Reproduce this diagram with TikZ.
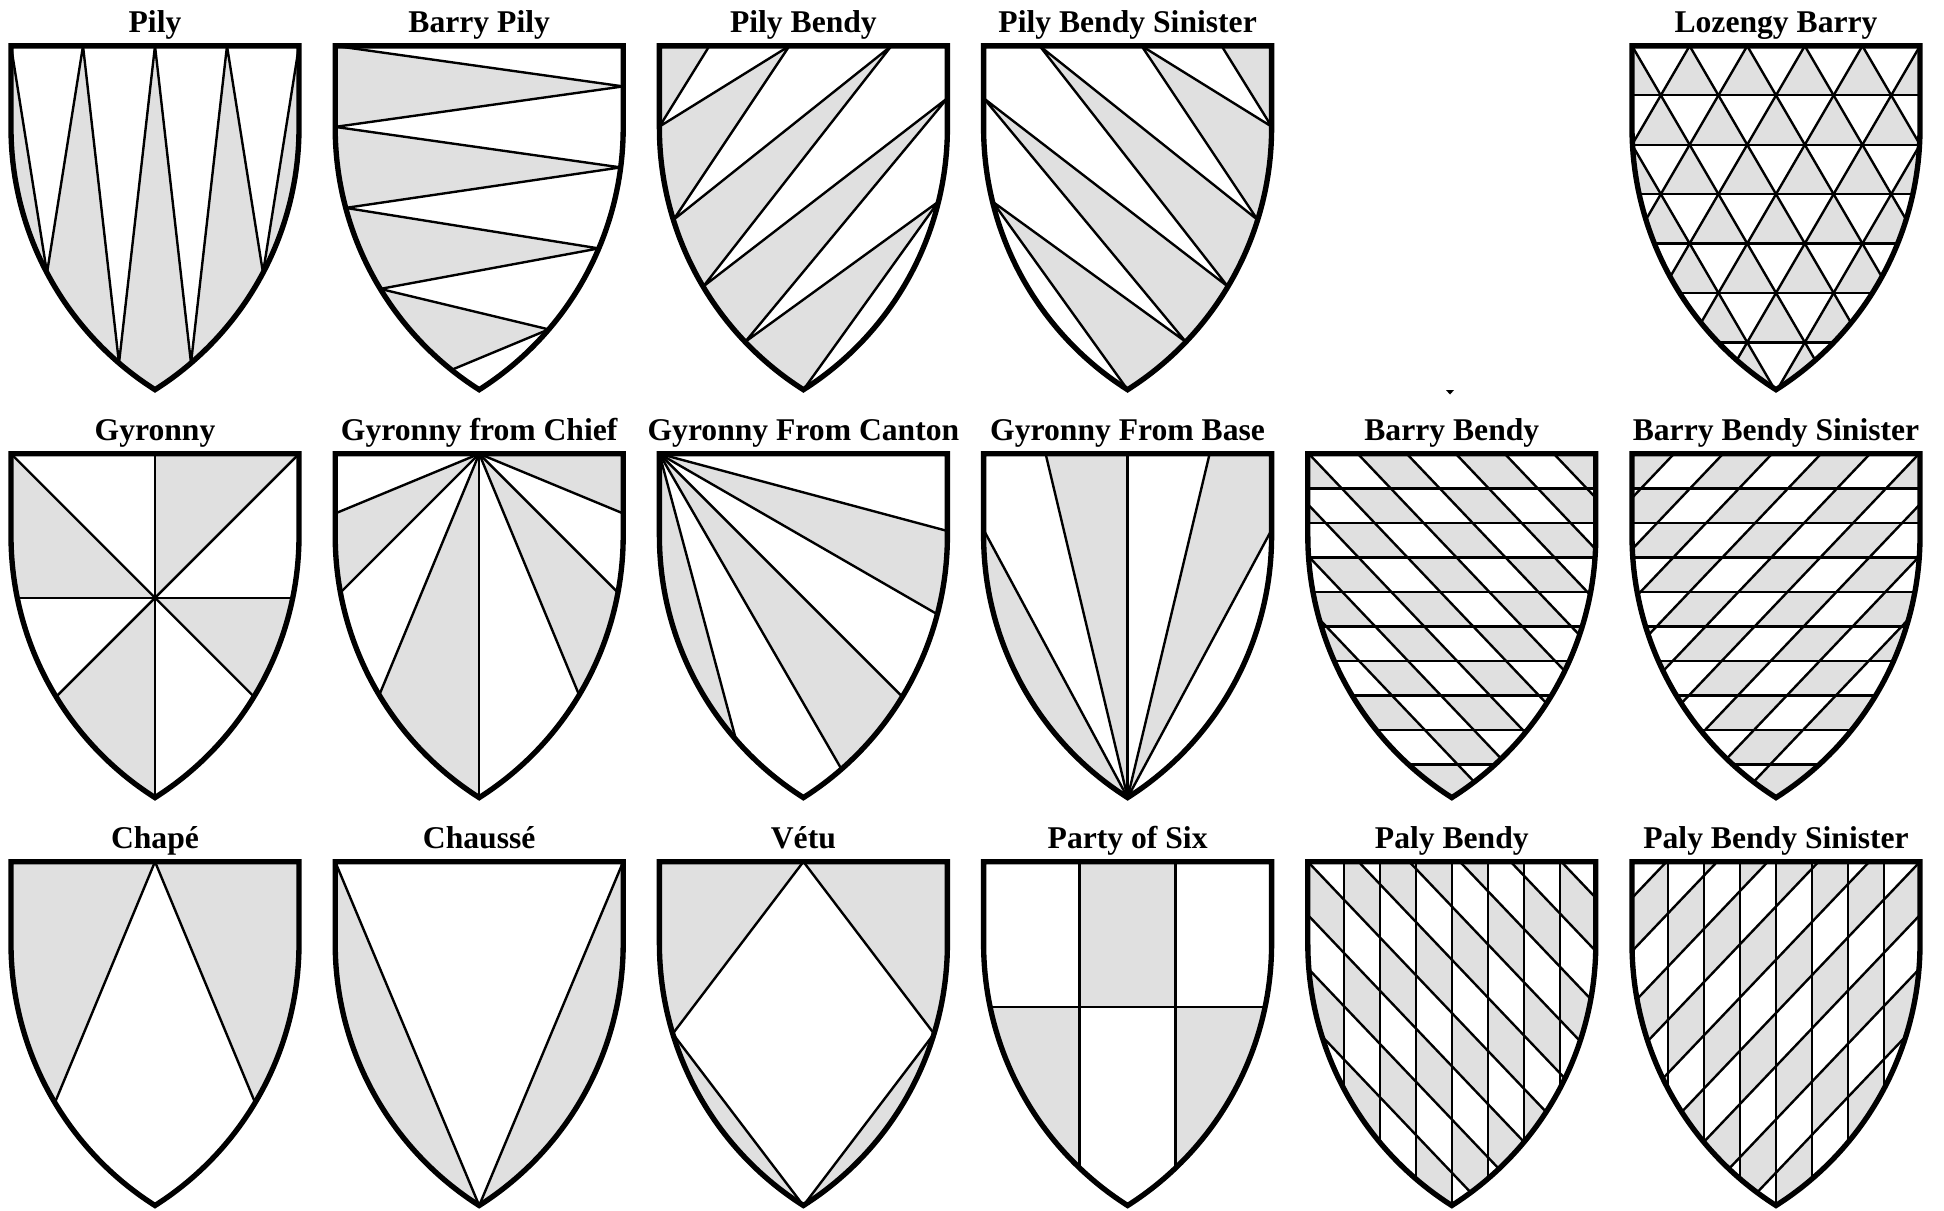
\documentclass[tikz,border=0pt]{standalone}
\usepackage{fontspec}
\setmainfont{Liberation Serif}
\definecolor{shade}{RGB}{224,224,224}
\newcommand\ShClip{\clip (0,0) -- (0,8.2) arc[start angle=180,end angle=122.38,radius=31] arc[start angle=57.62,end angle=0,radius=31] -- (28.8,0) -- cycle;}
\newcommand\ShDraw{\draw[outl] (0,0) -- (0,8.2) arc[start angle=180,end angle=122.38,radius=31] arc[start angle=57.62,end angle=0,radius=31] -- (28.8,0) -- cycle;}
\newcommand\PilyBendyPat{%
  \coordinate (T1) at (5,0); \coordinate (T2) at (13,0); \coordinate (T3) at (23.2,0);
  \coordinate (L1) at (0,8.07); \coordinate (L2) at ({xl(17.4)},17.4);
  \coordinate (L3) at ({xl(24.07)},24.07); \coordinate (L4) at ({xl(29.6)},29.6);
  \coordinate (R1) at (28.8,5.23); \coordinate (R2) at ({28.8-xl(15.57)},15.57);
  \coordinate (PT) at (14.4,34.38);
  \fill[gy] (T1) -- (L1) -- (-5,8.07) -- (-5,-5) -- (5,-5) -- cycle;
  \fill[gy] (T2) -- (L1) -- (-5,8.07) -- (-5,17.4) -- (L2) -- cycle;
  \fill[gy] (T3) -- (L2) -- (-5,17.4) -- (-5,24.07) -- (L3) -- cycle;
  \fill[gy] (R1) -- (L3) -- (-5,24.07) -- (-5,29.6) -- (L4) -- cycle;
  \fill[gy] (R2) -- (L4) -- (0,40) -- (PT) -- cycle;
  \draw[ln] (T1) -- (L1) -- (T2) -- (L2) -- (T3) -- (L3) -- (R1) -- (L4) -- (R2) -- (PT);
}
\newcommand\BarryBendyPat{%
  \foreach \k in {0,...,9}{\foreach \s in {-8,...,6}{%
    \pgfmathtruncatemacro\pp{mod(\k+(\s)+100,2)}%
    \ifnum\pp=1
      \fill[gy] ({0.1+4.9*(\s)+3.45*\k/1.05},{3.45*\k}) -- ({0.1+4.9*(\s+1)+3.45*\k/1.05},{3.45*\k}) -- ({0.1+4.9*(\s+1)+3.45*(\k+1)/1.05},{3.45*(\k+1)}) -- ({0.1+4.9*(\s)+3.45*(\k+1)/1.05},{3.45*(\k+1)}) -- cycle;
    \fi}}
  \foreach \k in {1,...,9} \draw[ln] (-1,{3.45*\k}) -- (30,{3.45*\k});
  \foreach \m in {-8,...,6} \draw[ln] ({0.1+4.9*(\m)},0) -- ++(40,42);
}
\newcommand\PalyBendyPat{%
  \foreach \p in {0,...,7}{\foreach \s in {-8,...,6}{%
    \pgfmathtruncatemacro\pp{mod(\p+(\s)+100,2)}%
    \ifnum\pp=1
      \fill[gy] ({3.6*\p},{1.05*(3.6*\p-5.07*(\s))}) -- ({3.6*\p},{1.05*(3.6*\p-5.07*(\s+1))}) -- ({3.6*(\p+1)},{1.05*(3.6*(\p+1)-5.07*(\s+1))}) -- ({3.6*(\p+1)},{1.05*(3.6*(\p+1)-5.07*(\s))}) -- cycle;
    \fi}}
  \foreach \p in {1,...,7} \draw[ln] ({3.6*\p},-1) -- ({3.6*\p},36);
  \foreach \m in {-8,...,6} \draw[ln] ({5.07*(\m)},0) -- ++(40,42);
}
\begin{document}
\begin{tikzpicture}[x=0.25cm,y=-0.25cm,
  declare function={xl(\t)=31-sqrt(961-(max(\t,8.2)-8.2)^2); ey(\t)=8.2+sqrt(961-(31-min(\t,28.8-\t))^2);},
  outl/.style={draw=black,line width=3.8pt,line join=miter},
  ln/.style={draw=black,line width=1.7pt,line cap=round,line join=round},
  gy/.style={fill=shade},
  lab/.style={anchor=base,font=\fontsize{22.5}{24}\selectfont\bfseries,inner sep=0pt}]
\fill[white] (0,0) rectangle (194.4,121);
\useasboundingbox (0,0) rectangle (194.4,121);

% ---------- Row 1 ----------
% Pily
\begin{scope}[shift={(1.1,4.59)}]
  \node[lab] (l1) at (14.4,-1.35) {Pily};
  \begin{scope}\ShClip
    \fill[gy] (-1,-1) rectangle (30,36);
    \foreach \i in {0,7.2,14.4,21.6} \fill[white] (\i,0) -- ({\i+7.2},0) -- ({\i+3.6},{ey(\i+3.6)}) -- cycle;
    \draw[ln] (0,0) -- (3.6,{ey(3.6)}) -- (7.2,0) -- (10.8,{ey(10.8)}) -- (14.4,0) -- (18,{ey(18)}) -- (21.6,0) -- (25.2,{ey(25.2)}) -- (28.8,0);
  \end{scope}
  \ShDraw
\end{scope}
% Barry Pily
\begin{scope}[shift={(33.52,4.59)}]
  \node[lab] (l2) at (14.4,-1.35) {Barry Pily};
  \begin{scope}\ShClip
    \foreach \k in {0,...,3}{
      \fill[gy] ({xl(8.1*\k)},{8.1*\k}) -- ({28.8-xl(8.1*\k+4.05)},{8.1*\k+4.05}) -- ({xl(8.1*\k+8.1)},{8.1*\k+8.1}) -- (-5,{8.1*\k+8.1}) -- (-5,{8.1*\k}) -- cycle;
      \draw[ln] ({xl(8.1*\k)},{8.1*\k}) -- ({28.8-xl(8.1*\k+4.05)},{8.1*\k+4.05}) -- ({xl(8.1*\k+8.1)},{8.1*\k+8.1});}
  \end{scope}
  \ShDraw
\end{scope}
% Pily Bendy
\begin{scope}[shift={(65.94,4.59)}]
  \node[lab] (l3) at (14.4,-1.35) {Pily Bendy};
  \begin{scope}\ShClip \PilyBendyPat \end{scope}
  \ShDraw
\end{scope}
% Pily Bendy Sinister
\begin{scope}[shift={(98.36,4.59)}]
  \node[lab] (l4) at (14.4,-1.35) {Pily Bendy Sinister};
  \begin{scope}[shift={(28.8,0)},xscale=-1]
    \begin{scope}\ShClip \PilyBendyPat \end{scope}
  \end{scope}
  \ShDraw
\end{scope}
% Lozengy Barry
\begin{scope}[shift={(163.2,4.59)}]
  \node[lab] (l5) at (14.4,-1.35) {Lozengy Barry};
  \begin{scope}\ShClip
    \foreach \k in {0,...,6}{\foreach \m in {-1,...,5}{%
      \fill[gy] ({2.88*mod(\k,2)+5.76*\m},{4.94*\k}) -- ++(-2.88,4.94) -- ++(5.76,0) -- cycle;}}
    \foreach \k in {1,...,6} \draw[ln] (-1,{4.94*\k}) -- (30,{4.94*\k});
    \foreach \m in {-6,...,11} {\draw[ln] ({5.76*\m},0) -- ++(23.04,39.52); \draw[ln] ({5.76*\m},0) -- ++(-23.04,39.52);}
  \end{scope}
  \ShDraw
\end{scope}
% small mark
\fill (144.6,39.0) -- (145.4,39.0) -- (145.0,39.45) -- cycle;

% ---------- Row 2 ----------
% Gyronny
\begin{scope}[shift={(1.1,45.38)}]
  \node[lab] (l6) at (14.4,-1.35) {Gyronny};
  \begin{scope}\ShClip
    \fill[gy] (-1,0) -- (-1,14.4) -- (14.4,14.4) -- (0,0) -- cycle;
    \fill[gy] (14.4,-1) -- (28.8,-1) -- (28.8,0) -- (14.4,14.4) -- cycle;
    \fill[gy] (14.4,14.4) -- (40,14.4) -- (40,40) -- cycle;
    \fill[gy] (14.4,14.4) -- (14.4,40) -- (-11.2,40) -- cycle;
    \draw[ln] (14.4,0) -- (14.4,40);
    \draw[ln] (-1,14.4) -- (30,14.4);
    \draw[ln] (0,0) -- (40,40);
    \draw[ln] (28.8,0) -- (-11.2,40);
  \end{scope}
  \ShDraw
\end{scope}
% Gyronny from Chief
\begin{scope}[shift={(33.52,45.38)}]
  \node[lab] (l7) at (14.4,-1.35) {Gyronny from Chief};
  \begin{scope}\ShClip
    \foreach \a in {0,45,90,135} \fill[gy] (14.4,0) -- +(\a:60) -- +({\a+22.5}:60) -- cycle;
    \foreach \a in {22.5,45,67.5,90,112.5,135,157.5} \draw[ln] (14.4,0) -- +(\a:60);
  \end{scope}
  \ShDraw
\end{scope}
% Gyronny From Canton
\begin{scope}[shift={(65.94,45.38)}]
  \node[lab] (l8) at (14.4,-1.35) {Gyronny From Canton};
  \begin{scope}\ShClip
    \foreach \a in {15,45,75} \fill[gy] (0,0) -- +(\a:60) -- +({\a+15}:60) -- cycle;
    \foreach \a in {15,30,45,60,75} \draw[ln] (0,0) -- +(\a:60);
  \end{scope}
  \ShDraw
\end{scope}
% Gyronny From Base
\begin{scope}[shift={(98.36,45.38)}]
  \node[lab] (l9) at (14.4,-1.35) {Gyronny From Base};
  \begin{scope}\ShClip
    \coordinate (PB) at (14.4,34.38);
    \fill[gy] (PB) -- (0,7.6) -- (-10,7.6) -- (-10,40) -- (14.4,40) -- cycle;
    \fill[gy] (PB) -- (6.2,0) -- (14.4,0) -- cycle;
    \fill[gy] (PB) -- (22.6,0) -- (28.8,0) -- (28.8,7.6) -- cycle;
    \draw[ln] (PB) -- (0,7.6);
    \draw[ln] (PB) -- (6.2,0);
    \draw[ln] (PB) -- (14.4,0);
    \draw[ln] (PB) -- (22.6,0);
    \draw[ln] (PB) -- (28.8,7.6);
  \end{scope}
  \ShDraw
\end{scope}
% Barry Bendy
\begin{scope}[shift={(130.78,45.38)}]
  \node[lab] (l10) at (14.4,-1.35) {Barry Bendy};
  \begin{scope}\ShClip \BarryBendyPat \end{scope}
  \ShDraw
\end{scope}
% Barry Bendy Sinister
\begin{scope}[shift={(163.2,45.38)}]
  \node[lab] (l11) at (14.4,-1.35) {Barry Bendy Sinister};
  \begin{scope}[shift={(28.8,0)},xscale=-1]
    \begin{scope}\ShClip \BarryBendyPat \end{scope}
  \end{scope}
  \ShDraw
\end{scope}

% ---------- Row 3 ----------
% Chape
\begin{scope}[shift={(1.1,86.17)}]
  \node[lab] (l12) at (14.4,-1.35) {Chapé};
  \begin{scope}\ShClip
    \coordinate (CA) at (14.4,0);
    \coordinate (CL) at ({xl(24.1)},24.1);
    \coordinate (CR) at ({28.8-xl(24.1)},24.1);
    \fill[gy] (CA) -- (CL) -- (-5,24.1) -- (-5,-1) -- (14.4,-1) -- cycle;
    \fill[gy] (CA) -- (CR) -- (34,24.1) -- (34,-1) -- (14.4,-1) -- cycle;
    \draw[ln] (CL) -- (CA) -- (CR);
  \end{scope}
  \ShDraw
\end{scope}
% Chausse
\begin{scope}[shift={(33.52,86.17)}]
  \node[lab] (l13) at (14.4,-1.35) {Chaussé};
  \begin{scope}\ShClip
    \coordinate (CP) at (14.4,34.38);
    \fill[gy] (0,0) -- (CP) -- (-5,40) -- (-5,-1) -- (0,-1) -- cycle;
    \fill[gy] (28.8,0) -- (CP) -- (34,40) -- (34,-1) -- (28.8,-1) -- cycle;
    \draw[ln] (0,0) -- (CP) -- (28.8,0);
  \end{scope}
  \ShDraw
\end{scope}
% Vetu
\begin{scope}[shift={(65.94,86.17)}]
  \node[lab] (l14) at (14.4,-1.35) {Vétu};
  \begin{scope}\ShClip
    \fill[gy] (-1,-1) rectangle (30,36);
    \fill[white] (14.4,0) -- ({xl(17.2)},17.2) -- (14.4,34.38) -- ({28.8-xl(17.2)},17.2) -- cycle;
    \draw[ln] (14.4,0) -- ({xl(17.2)},17.2) -- (14.4,34.38) -- ({28.8-xl(17.2)},17.2) -- cycle;
  \end{scope}
  \ShDraw
\end{scope}
% Party of Six
\begin{scope}[shift={(98.36,86.17)}]
  \node[lab] (l15) at (14.4,-1.35) {Party of Six};
  \begin{scope}\ShClip
    \fill[gy] (9.6,-1) rectangle (19.2,14.5);
    \fill[gy] (-1,14.5) rectangle (9.6,36);
    \fill[gy] (19.2,14.5) rectangle (30,36);
    \draw[ln] (9.6,-1) -- (9.6,36);
    \draw[ln] (19.2,-1) -- (19.2,36);
    \draw[ln] (-1,14.5) -- (30,14.5);
  \end{scope}
  \ShDraw
\end{scope}
% Paly Bendy
\begin{scope}[shift={(130.78,86.17)}]
  \node[lab] (l16) at (14.4,-1.35) {Paly Bendy};
  \begin{scope}\ShClip \PalyBendyPat \end{scope}
  \ShDraw
\end{scope}
% Paly Bendy Sinister
\begin{scope}[shift={(163.2,86.17)}]
  \node[lab] (l17) at (14.4,-1.35) {Paly Bendy Sinister};
  \begin{scope}[shift={(28.8,0)},xscale=-1]
    \begin{scope}\ShClip \PalyBendyPat \end{scope}
  \end{scope}
  \ShDraw
\end{scope}
\end{tikzpicture}
\end{document}
